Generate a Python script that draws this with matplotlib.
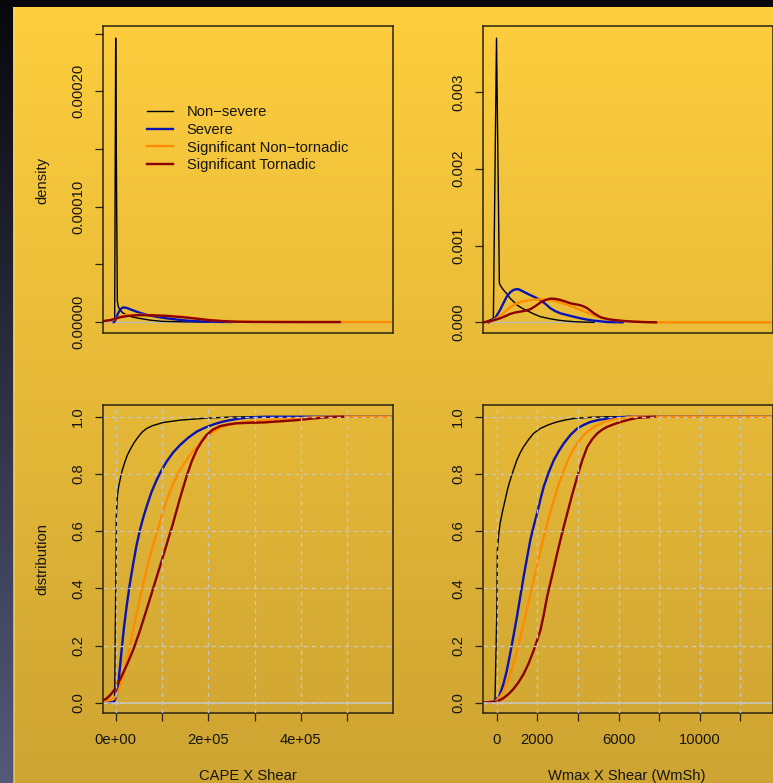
import matplotlib
matplotlib.use("Agg")

import matplotlib.pyplot as plt
import numpy as np

plt.rcParams["font.family"] = ["Liberation Sans", "DejaVu Sans"]
plt.rcParams["font.size"] = 10.6

W, H = 773, 783

SERIES = ["Non\u2212severe", "Severe", "Significant Non\u2212tornadic", "Significant Tornadic"]
COLORS = ["#000000", "#0a14b4", "#ff8c00", "#8b0000"]
WIDTHS = [1.0, 1.7, 1.7, 1.7]

# --- density of CAPE x shear ---
cape_dens_nonsevere_x = [-4000, -2200, 0, 1800, 3600, 6000, 10000, 16000, 25000, 35000, 52000, 75000, 100000, 140000, 200000]
cape_dens_nonsevere_y = [0, 0, 0.000246, 0.00012, 0.000018, 0.000013, 0.000010, 0.0000078, 0.0000058, 0.0000045,
                         0.0000031, 0.0000016, 0.0000006, 0.0000002, 0]
cape_dens_severe_x = [-4200, 0, 5000, 10000, 16000, 24000, 35000, 50000, 70000, 90000, 110000, 135000, 160000, 200000, 250000]
cape_dens_severe_y = [0, 0.000002, 0.0000075, 0.000011, 0.0000127, 0.0000122, 0.0000105, 0.0000083, 0.000006, 0.0000044,
                      0.0000032, 0.000002, 0.000001, 0.0000003, 0]
cape_dens_signt_x = [-27000, -10000, 0, 10000, 24000, 45000, 70000, 100000, 140000, 175000, 210000, 250000, 300000, 400000, 500000, 620000]
cape_dens_signt_y = [0.0000005, 0.0000015, 0.0000028, 0.0000048, 0.0000062, 0.0000064, 0.0000062, 0.0000057, 0.0000048,
                     0.0000032, 0.0000016, 0.0000006, 0.0000002, 0, 0, 0]
cape_dens_sigtor_x = [-27000, -10000, 0, 10000, 25000, 50000, 80000, 110000, 145000, 175000, 200000, 230000, 260000, 300000, 400000, 484000]
cape_dens_sigtor_y = [0.0000008, 0.0000018, 0.000003, 0.0000042, 0.0000052, 0.000006, 0.0000058, 0.0000053, 0.0000042,
                      0.0000029, 0.0000017, 0.0000008, 0.0000003, 0.0000001, 0, 0]

# --- density of Wmax x shear ---
wmsh_dens_nonsevere_x = [-600, -165, -10, 132, 200, 331, 500, 661, 830, 992, 1240, 1488, 1818, 2149, 2560, 2975,
                         3400, 3802, 4300, 4800]
wmsh_dens_nonsevere_y = [0, 0.00005, 0.00370, 0.00051, 0.00047, 0.000422, 0.00037, 0.000313, 0.00027, 0.000226,
                         0.000185, 0.000152, 0.00011, 0.000074, 0.00005, 0.00003, 0.000017, 0.0000087, 0.000003, 0]
wmsh_dens_severe_x = [-400, -83, 165, 330, 496, 660, 826, 1000, 1074, 1240, 1405, 1610, 1818, 2149, 2400, 2645,
                      2890, 3140, 3636, 4132, 4460, 4793, 5455, 6200]
wmsh_dens_severe_y = [0, 0.000052, 0.00016, 0.00025, 0.000335, 0.00039, 0.000422, 0.000432, 0.00043, 0.00041,
                      0.000387, 0.00036, 0.000335, 0.000291, 0.00024, 0.000183, 0.000145, 0.000117, 0.000083,
                      0.000052, 0.000035, 0.000022, 0.000004, 0]
wmsh_dens_signt_x = [-690, -331, 0, 250, 496, 750, 992, 1240, 1488, 1818, 2149, 2400, 2645, 2890, 3140, 3470, 3802,
                     4130, 4463, 4790, 5124, 5455, 5785, 6280, 6777, 7300, 7900, 14000]
wmsh_dens_signt_y = [0, 0.0000087, 0.000052, 0.0001, 0.00016, 0.00021, 0.000248, 0.00027, 0.000283, 0.000294,
                     0.0003, 0.000298, 0.000291, 0.000276, 0.000257, 0.000228, 0.000196, 0.00016, 0.000126,
                     0.00009, 0.000061, 0.000042, 0.00003, 0.000017, 0.0000087, 0.000003, 0, 0]
wmsh_dens_sigtor_x = [-690, -331, 165, 420, 661, 910, 1157, 1400, 1653, 1900, 2149, 2400, 2645, 2890, 3140, 3390,
                      3636, 3880, 4132, 4300, 4463, 4630, 4793, 4960, 5124, 5455, 5785, 6280, 6777, 7300, 7851]
wmsh_dens_sigtor_y = [0, 0.000013, 0.000052, 0.00008, 0.000109, 0.000128, 0.000139, 0.00015, 0.00017, 0.00021,
                      0.000257, 0.00029, 0.000309, 0.000305, 0.000291, 0.00027, 0.000248, 0.000235, 0.000222,
                      0.000205, 0.000183, 0.00015, 0.000117, 0.00009, 0.000065, 0.000042, 0.00003, 0.000017,
                      0.0000087, 0.000003, 0]

# --- cumulative distribution of CAPE x shear ---
cape_cdf_nonsevere_x = [-26600, -2200, 0, 1440, 3600, 6000, 9350, 14000, 20100, 25000, 30900, 40000, 48900, 57000,
                        66900, 80000, 103000, 139000, 170000, 196000, 247000, 297000, 600000]
cape_cdf_nonsevere_y = [0, 0, 0.395, 0.651, 0.721, 0.752, 0.779, 0.812, 0.843, 0.865, 0.884, 0.91, 0.930, 0.946,
                        0.959, 0.969, 0.980, 0.988, 0.992, 0.995, 0.9988, 1.0, 1.0]
cape_cdf_severe_x = [-26600, -5000, 0, 3000, 5800, 9000, 12900, 18000, 23700, 30000, 38100, 45000, 52500, 60000,
                     66900, 77000, 88500, 99000, 110000, 124000, 139000, 157000, 175000, 193000, 211000, 229000,
                     247000, 265000, 283000, 305000, 326000, 600000]
cape_cdf_severe_y = [0, 0.002, 0.017, 0.035, 0.07, 0.12, 0.186, 0.265, 0.337, 0.41, 0.488, 0.55, 0.605, 0.65,
                     0.686, 0.735, 0.779, 0.813, 0.843, 0.875, 0.901, 0.927, 0.948, 0.962, 0.973, 0.982,
                     0.988, 0.993, 0.9965, 0.999, 1.0, 1.0]
cape_cdf_signt_x = [-26600, -15000, -5000, 0, 5800, 11000, 16500, 23000, 30900, 40000, 48900, 58000, 66900, 77000,
                    88500, 99000, 110000, 124000, 139000, 157000, 175000, 193000, 211000, 229000, 247000, 265000,
                    283000, 320000, 355000, 390000, 427000, 460000, 500000, 600000]
cape_cdf_signt_y = [0.006, 0.008, 0.012, 0.022, 0.041, 0.063, 0.093, 0.14, 0.198, 0.27, 0.337, 0.405, 0.465, 0.53,
                    0.593, 0.652, 0.709, 0.765, 0.814, 0.858, 0.895, 0.925, 0.948, 0.963, 0.973, 0.979,
                    0.983, 0.988, 0.991, 0.994, 0.998, 0.9995, 1.0, 1.0]
cape_cdf_sigtor_x = [-26600, -20000, -12200, -5000, 2200, 9000, 16500, 27000, 38100, 52000, 66900, 81000, 95700,
                     110000, 124000, 138000, 153000, 164000, 175000, 186000, 196000, 210000, 225000, 243000,
                     261000, 290000, 319000, 355000, 391000, 427000, 463000, 491000]
cape_cdf_sigtor_y = [0.009, 0.014, 0.026, 0.04, 0.058, 0.08, 0.105, 0.143, 0.186, 0.25, 0.326, 0.4, 0.477,
                     0.553, 0.628, 0.71, 0.791, 0.843, 0.884, 0.914, 0.936, 0.955, 0.967, 0.973,
                     0.977, 0.979, 0.980, 0.984, 0.988, 0.994, 0.999, 1.0]

# --- cumulative distribution of Wmax x shear ---
wmsh_cdf_nonsevere_x = [-690, -150, -83, 0, 33, 100, 165, 290, 413, 530, 661, 830, 992, 1150, 1322, 1570, 1818,
                        2149, 2550, 2975, 3400, 3802, 4628, 5455, 14000]
wmsh_cdf_nonsevere_y = [0, 0, 0.013, 0.30, 0.533, 0.59, 0.626, 0.67, 0.708, 0.745, 0.778, 0.815, 0.848, 0.873,
                        0.895, 0.92, 0.942, 0.959, 0.972, 0.982, 0.989, 0.994, 0.998, 1.0, 1.0]
wmsh_cdf_severe_x = [-690, -165, 83, 200, 331, 500, 661, 830, 992, 1160, 1322, 1490, 1653, 1820, 1983, 2150, 2314,
                     2560, 2810, 3060, 3306, 3640, 3967, 4300, 4628, 5040, 5455, 6000, 6446, 14000]
wmsh_cdf_severe_y = [0, 0.0035, 0.019, 0.038, 0.065, 0.113, 0.171, 0.235, 0.299, 0.37, 0.439, 0.505, 0.568,
                     0.617, 0.661, 0.71, 0.755, 0.805, 0.848, 0.88, 0.907, 0.937, 0.959, 0.972, 0.982, 0.989,
                     0.994, 0.998, 1.0, 1.0]
wmsh_cdf_signt_x = [-690, -83, 165, 330, 496, 660, 826, 1070, 1322, 1570, 1818, 2066, 2314, 2560, 2810, 3060, 3306,
                    3550, 3802, 4050, 4298, 4630, 4959, 5370, 5785, 6280, 6777, 14000]
wmsh_cdf_signt_y = [0, 0.0035, 0.021, 0.04, 0.065, 0.097, 0.136, 0.2, 0.276, 0.352, 0.428, 0.505, 0.579, 0.647,
                    0.708, 0.765, 0.813, 0.855, 0.889, 0.915, 0.936, 0.957, 0.971, 0.983, 0.991, 0.996, 1.0, 1.0]
wmsh_cdf_sigtor_x = [-690, 0, 331, 580, 826, 1070, 1322, 1570, 1818, 2000, 2149, 2310, 2479, 2730, 2975, 3220, 3471,
                     3720, 3967, 4215, 4463, 4710, 4959, 5200, 5455, 5780, 6116, 6530, 6942, 7769]
wmsh_cdf_sigtor_y = [0, 0.0035, 0.016, 0.03, 0.048, 0.071, 0.1, 0.137, 0.182, 0.22, 0.252, 0.305, 0.369, 0.445,
                     0.521, 0.593, 0.661, 0.728, 0.79, 0.848, 0.895, 0.922, 0.942, 0.955, 0.965, 0.974, 0.982,
                     0.99, 0.996, 1.0]

# ticks and labels
cape_ticks = [0, 100000, 200000, 300000, 400000, 500000]
cape_labels = ["0e+00", "", "2e+05", "", "4e+05", ""]
wmsh_ticks = [0, 2000, 4000, 6000, 8000, 10000, 12000]
wmsh_labels = ["0", "2000", "", "6000", "", "10000", ""]
cape_dens_ticks = [0, 0.00005, 0.0001, 0.00015, 0.0002, 0.00025]
cape_dens_labels = ["0.00000", "", "0.00010", "", "0.00020", ""]
wmsh_dens_ticks = [0, 0.001, 0.002, 0.003]
wmsh_dens_labels = ["0.000", "0.001", "0.002", "0.003"]
cdf_ticks = [0, 0.2, 0.4, 0.6, 0.8, 1.0]
cdf_labels = ["0.0", "0.2", "0.4", "0.6", "0.8", "1.0"]

TEXT = "#151515"
FRAME = "#2a2410"
GRID = "#c9c6bd"


def px_box(x0, y0, x1, y1):
    """Axes rectangle from pixel corners (origin top-left)."""
    return [x0 / W, 1 - y1 / H, (x1 - x0) / W, (y1 - y0) / H]


def style(ax, yticks, ylabels):
    for s in ax.spines.values():
        s.set_color(FRAME)
        s.set_linewidth(1.1)
    ax.set_facecolor("none")
    ax.tick_params(direction="out", length=5.8, width=0.9, colors=FRAME, labelcolor=TEXT)
    ax.tick_params(axis="y", pad=7, labelrotation=90)
    ax.tick_params(axis="x", pad=9)
    ax.set_yticks(yticks, ylabels)
    for lab in ax.get_yticklabels():
        lab.set_va("center")


fig = plt.figure(figsize=(W / 100, H / 100), dpi=100)

# slide background: dark bluish strip behind a yellow gradient panel
bg = fig.add_axes([0, 0, 1, 1], zorder=-10)
bg.set_axis_off()
t = np.linspace(0, 1, 256)[:, None, None]
dark = (1 - t) * np.array([0.03, 0.03, 0.05]) + t * np.array([0.33, 0.35, 0.48])
bg.imshow(dark, extent=[0, W, H, 0], aspect="auto", interpolation="bilinear")
yellow = (1 - t) * np.array([0.996, 0.808, 0.243]) + t * np.array([0.808, 0.643, 0.196])
bg.imshow(yellow, extent=[13, W, H, 7], aspect="auto", interpolation="bilinear")
bg.plot([13.5, 13.5], [7, H], color="#f2d67a", lw=0.8, alpha=0.6)
bg.set_xlim(0, W)
bg.set_ylim(H, 0)

ax1 = fig.add_axes(px_box(103, 26, 393, 333))
ax2 = fig.add_axes(px_box(482.7, 26, 772.7, 333))
ax3 = fig.add_axes(px_box(103, 405.3, 393, 712.7))
ax4 = fig.add_axes(px_box(482.7, 405.3, 772.7, 712.7))

dens_cape = [(cape_dens_nonsevere_x, cape_dens_nonsevere_y), (cape_dens_severe_x, cape_dens_severe_y),
             (cape_dens_signt_x, cape_dens_signt_y), (cape_dens_sigtor_x, cape_dens_sigtor_y)]
dens_wmsh = [(wmsh_dens_nonsevere_x, wmsh_dens_nonsevere_y), (wmsh_dens_severe_x, wmsh_dens_severe_y),
             (wmsh_dens_signt_x, wmsh_dens_signt_y), (wmsh_dens_sigtor_x, wmsh_dens_sigtor_y)]
cdf_cape = [(cape_cdf_nonsevere_x, cape_cdf_nonsevere_y), (cape_cdf_severe_x, cape_cdf_severe_y),
            (cape_cdf_signt_x, cape_cdf_signt_y), (cape_cdf_sigtor_x, cape_cdf_sigtor_y)]
cdf_wmsh = [(wmsh_cdf_nonsevere_x, wmsh_cdf_nonsevere_y), (wmsh_cdf_severe_x, wmsh_cdf_severe_y),
            (wmsh_cdf_signt_x, wmsh_cdf_signt_y), (wmsh_cdf_sigtor_x, wmsh_cdf_sigtor_y)]

# density panels
for ax, curves in [(ax1, dens_cape), (ax2, dens_wmsh)]:
    ax.axhline(0, color="#bdbab2", lw=1.0, zorder=1.5)
    for (x, y), c, lw, name in zip(curves, COLORS, WIDTHS, SERIES):
        ax.plot(x, y, color=c, lw=lw, label=name, solid_joinstyle="round")
    ax.set_xticks([])

ax1.set_xlim(-27400, 599000)
ax1.set_ylim(-0.0000095, 0.0002565)
style(ax1, cape_dens_ticks, cape_dens_labels)
ax2.set_xlim(-690, 13596)
ax2.set_ylim(-0.000139, 0.003858)
style(ax2, wmsh_dens_ticks, wmsh_dens_labels)

ax1.legend(loc="upper left", bbox_to_anchor=(0.1517, 0.7427), frameon=False, borderpad=0, borderaxespad=0,
           handlelength=1.77, handletextpad=0.93, labelspacing=0.26, labelcolor=TEXT)

# cumulative distribution panels
for ax, curves, ticks, labels, xlim in [(ax3, cdf_cape, cape_ticks, cape_labels, (-27400, 599000)),
                                         (ax4, cdf_wmsh, wmsh_ticks, wmsh_labels, (-690, 13596))]:
    for (x, y), c, lw in zip(curves, COLORS, WIDTHS):
        ax.plot(x, y, color=c, lw=lw, solid_joinstyle="round", zorder=2)
    ax.axhline(0, color=GRID, lw=1.1, zorder=2.4)
    ax.set_xlim(*xlim)
    ax.set_ylim(-0.035, 1.04)
    ax.set_xticks(ticks, labels)
    style(ax, cdf_ticks, cdf_labels)
    ax.set_axisbelow(False)
    ax.grid(True, color=GRID, lw=1.0, linestyle=(0, (3, 3)))

# axis titles
fig.text(42 / W, 1 - 180 / H, "density", rotation=90, ha="center", va="center", color=TEXT)
fig.text(42 / W, 1 - 559 / H, "distribution", rotation=90, ha="center", va="center", color=TEXT)
fig.text(248 / W, 1 - 776 / H, "CAPE X Shear", ha="center", va="center", color=TEXT)
fig.text(627 / W, 1 - 776 / H, "Wmax X Shear (WmSh)", ha="center", va="center", color=TEXT)

fig.savefig("out.png", dpi=100)
